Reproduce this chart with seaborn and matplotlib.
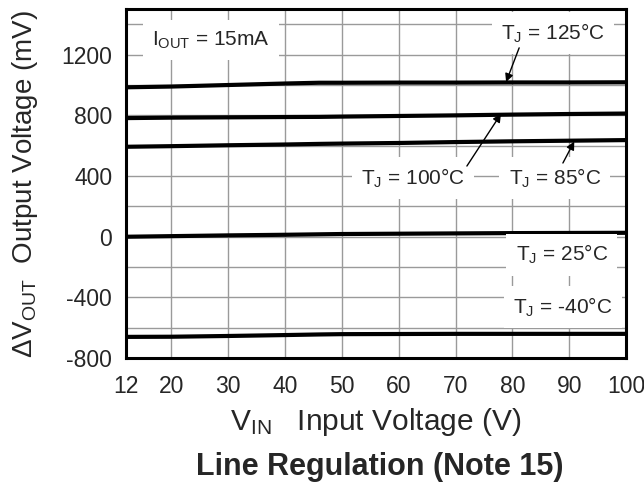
import matplotlib
matplotlib.use("Agg")
import matplotlib.pyplot as plt
import seaborn as sns
import pandas as pd

# ---- data ----
vin = [12, 20, 30, 40, 46, 50, 60, 70, 80, 90, 100]
t125 = [985, 990, 1000, 1010, 1015, 1015, 1016, 1016, 1017, 1017, 1018]
t100 = [782, 785, 787, 789, 790, 792, 796, 800, 805, 809, 812]
t85 = [593, 597, 603, 608, 612, 614, 618, 624, 629, 633, 637]
t25 = [0, 4, 9, 13, 16, 18, 20, 22, 24, 25, 26]
tm40 = [-660, -659, -654, -648, -644, -642, -641, -640, -640, -640, -640]
series_names = ["125", "100", "85", "25", "-40"]
x_ticks = [12, 20, 30, 40, 50, 60, 70, 80, 90, 100]
y_ticks = [-800, -400, 0, 400, 800, 1200]
y_grid = [-800, -600, -400, -200, 0, 200, 400, 600, 800, 1000, 1200, 1400]

rows = []
for name, vals in zip(series_names, [t125, t100, t85, t25, tm40]):
    for x, y in zip(vin, vals):
        rows.append({"VIN": x, "dV": y, "T": name})
df = pd.DataFrame(rows)

sns.set_style("white")
plt.rcParams["font.family"] = ["Liberation Sans", "DejaVu Sans"]
plt.rcParams["mathtext.fontset"] = "custom"
plt.rcParams["mathtext.rm"] = "Liberation Sans"
plt.rcParams["mathtext.it"] = "Liberation Sans:italic"
plt.rcParams["mathtext.bf"] = "Liberation Sans:bold"
plt.rcParams["axes.unicode_minus"] = False

fig = plt.figure(figsize=(6.44, 4.82), dpi=100)
ax = fig.add_axes([0.1957, 0.257, 0.7763, 0.724])

sns.lineplot(data=df, x="VIN", y="dV", units="T", estimator=None,
             color="black", linewidth=3.0, ax=ax, legend=False, zorder=3)

ax.set_xlim(12, 100)
ax.set_ylim(-800, 1500)
ax.set_xticks(x_ticks)
ax.set_yticks(y_ticks)
ax.set_yticks(y_grid, minor=True)
ax.tick_params(axis="both", which="both", length=0, labelsize=16.5)
ax.tick_params(axis="x", pad=12)
ax.tick_params(axis="y", pad=10)
ax.grid(True, which="both", axis="y", color="#9a9a9a", linewidth=1.0, zorder=0)
ax.grid(True, which="major", axis="x", color="#9a9a9a", linewidth=1.0, zorder=0)
ax.set_axisbelow(True)
for s in ax.spines.values():
    s.set_linewidth(2.2)
    s.set_color("black")
    s.set_zorder(5)

ax.set_xlabel(r"V$_\mathregular{IN}$   Input Voltage (V)", fontsize=21.5, labelpad=6)
ax.set_ylabel(r"ΔV$_\mathregular{OUT}$  Output Voltage (mV)", fontsize=20, labelpad=15)
fig.text(0.59, 0.0145, "Line Regulation (Note 15)", fontsize=22, fontweight="bold",
         ha="center", va="baseline")

box = dict(boxstyle="square,pad=0.45", facecolor="white", edgecolor="none")
ax.text(16.6, 1295, r"I$_\mathregular{OUT}$ = 15mA", fontsize=15, ha="left", va="center",
        bbox=box, zorder=4)
ax.text(96.3, 1340, r"T$_\mathregular{J}$ = 125°C", fontsize=15, ha="right", va="center",
        bbox=box, zorder=4)
ax.text(62.5, 385, r"T$_\mathregular{J}$ = 100°C", fontsize=15, ha="center", va="center",
        bbox=box, zorder=4)
ax.text(87.5, 385, r"T$_\mathregular{J}$ = 85°C", fontsize=15, ha="center", va="center",
        bbox=box, zorder=4)
ax.text(88.7, -118, r"T$_\mathregular{J}$ = 25°C", fontsize=15, ha="center", va="center",
        bbox=box, zorder=4)
ax.text(88.9, -466, r"T$_\mathregular{J}$ = -40°C", fontsize=15, ha="center", va="center",
        bbox=box, zorder=4)

arrow = dict(arrowstyle="-|>", color="black", lw=1.0, mutation_scale=12, shrinkA=0, shrinkB=0)
ax.annotate("", xy=(78.9, 1020), xytext=(81.2, 1245), arrowprops=arrow, zorder=6)
ax.annotate("", xy=(78.0, 810), xytext=(72.0, 466), arrowprops=arrow, zorder=6)
ax.annotate("", xy=(90.9, 628), xytext=(88.9, 486), arrowprops=arrow, zorder=6)

fig.savefig("out.png", dpi=100)
